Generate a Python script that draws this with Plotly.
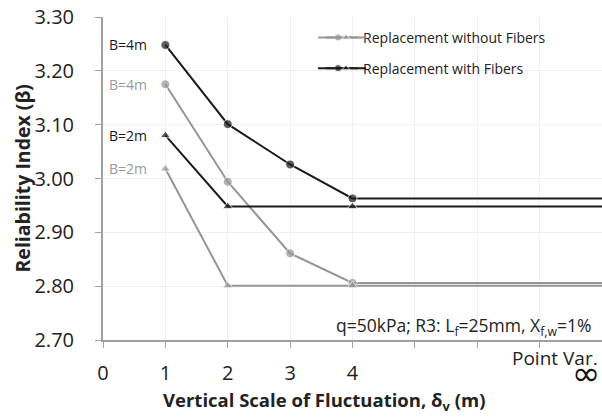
import plotly.graph_objects as go

# ---- data ----
x_b4 = [1, 2, 3, 4, 8]
x_b2 = [1, 2, 4, 8]
no_fib_b4 = [3.175, 2.994, 2.861, 2.806, 2.806]
no_fib_b2 = [3.018, 2.801, 2.801, 2.801]
fib_b4 = [3.248, 3.101, 3.026, 2.963, 2.963]
fib_b2 = [3.080, 2.948, 2.948, 2.948]
x_tickvals = [0, 1, 2, 3, 4, 5, 6, 7, 8]
x_ticktext = ["0", "1", "2", "3", "4", "", "", "", ""]
y_tickvals = [2.70, 2.80, 2.90, 3.00, 3.10, 3.20, 3.30]
series_names = ["Replacement without Fibers", "Replacement with Fibers"]

FONT = "Open Sans"
GRAY = "#959595"
BLACK = "#1a1a1a"
TXT = "#222222"

fig = go.Figure()

def msizes(n, s):
    return [s] * (n - 1) + [0]

fig.add_trace(go.Scatter(x=x_b4, y=no_fib_b4, mode="lines+markers", name=series_names[0],
                         line=dict(color=GRAY, width=2),
                         marker=dict(symbol="circle", size=msizes(len(x_b4), 9), color=GRAY),
                         legend="legend2", cliponaxis=False))
fig.add_trace(go.Scatter(x=x_b4, y=fib_b4, mode="lines+markers", name=series_names[1],
                         line=dict(color=BLACK, width=2),
                         marker=dict(symbol="circle", size=msizes(len(x_b4), 9), color=BLACK),
                         legend="legend3", cliponaxis=False))
fig.add_trace(go.Scatter(x=x_b2, y=no_fib_b2, mode="lines+markers", name=" ",
                         line=dict(color=GRAY, width=2),
                         marker=dict(symbol="triangle-up", size=msizes(len(x_b2), 9), color=GRAY),
                         legend="legend4", cliponaxis=False))
fig.add_trace(go.Scatter(x=x_b2, y=fib_b2, mode="lines+markers", name=" ",
                         line=dict(color=BLACK, width=2),
                         marker=dict(symbol="triangle-up", size=msizes(len(x_b2), 9), color=BLACK),
                         legend="legend5", cliponaxis=False))

# B labels
labels = [("B=4m", fib_b4[0], BLACK), ("B=4m", no_fib_b4[0], "#9a9a9a"),
          ("B=2m", fib_b2[0], BLACK), ("B=2m", no_fib_b2[0], "#9a9a9a")]
for t, yv, c in labels:
    fig.add_annotation(x=1, y=yv, text=t, showarrow=False, xanchor="right", xshift=-16,
                       font=dict(family=FONT, size=14, color=c))

fig.add_annotation(xref="paper", yref="paper", x=0.982, y=0.0, yanchor="bottom", xanchor="right",
                   yshift=-2, showarrow=False,
                   text="q=50kPa; R3: L<sub>f</sub>=25mm, X<sub>f,w</sub>=1%",
                   font=dict(family=FONT, size=17.5, color=TXT))
fig.add_annotation(xref="paper", yref="paper", x=0.995, y=0.0, yanchor="top", xanchor="right",
                   yshift=-3, showarrow=False, text="Point Var.",
                   font=dict(family=FONT, size=19, color=TXT))
fig.add_annotation(xref="paper", yref="paper", x=0.999, y=0.0, yanchor="top", xanchor="right",
                   yshift=-11, showarrow=False, text="∞",
                   font=dict(family="DejaVu Sans", size=34, color="#111"))

# axis titles
fig.add_annotation(xref="paper", yref="paper", x=0.443, y=0.0, yanchor="middle", xanchor="center",
                   yshift=-61, showarrow=False,
                   text="<b>Vertical Scale of Fluctuation, δ<sub>v</sub> (m)</b>",
                   font=dict(family=FONT, size=18.5, color=TXT))
fig.add_annotation(xref="paper", yref="paper", x=-0.1623, y=0.5, yanchor="middle", xanchor="center",
                   textangle=-90, showarrow=False,
                   text="<b>Reliability Index (β)</b>",
                   font=dict(family=FONT, size=19.5, color=TXT))

leg_common = dict(xanchor="left", yanchor="top", bgcolor="rgba(0,0,0,0)",
                  font=dict(family=FONT, size=14, color=TXT), itemwidth=40)
fig.update_layout(
    width=602, height=418,
    margin=dict(l=103, r=0, t=17, b=78),
    paper_bgcolor="white", plot_bgcolor="white",
    font=dict(family=FONT, color=TXT),
    legend2=dict(x=0.421, y=0.985, **leg_common),
    legend3=dict(x=0.421, y=0.89, **leg_common),
    legend4=dict(x=0.437, y=0.985, **leg_common),
    legend5=dict(x=0.437, y=0.89, **leg_common),
    xaxis=dict(range=[0, 8], tickvals=x_tickvals, ticktext=x_ticktext,
               showline=True, linecolor="#a0a0a0", linewidth=2,
               ticks="outside", ticklen=6, tickcolor="#a0a0a0", tickwidth=1,
               ticklabelstandoff=8,
               showgrid=True, gridcolor="#f0f0f0", gridwidth=1, zeroline=False,
               tickfont=dict(family=FONT, size=20, color=TXT)),
    yaxis=dict(range=[2.70, 3.30], tickvals=y_tickvals, tickformat=".2f",
               showline=True, linecolor="#a0a0a0", linewidth=2,
               ticks="outside", ticklen=6, tickcolor="#a0a0a0", tickwidth=1,
               ticklabelstandoff=17,
               showgrid=True, gridcolor="#f0f0f0", gridwidth=1, zeroline=False,
               tickfont=dict(family=FONT, size=20, color=TXT)),
)

fig.write_html("out.html", config={"displayModeBar": False},
               post_script="document.body.style.margin='0';")
